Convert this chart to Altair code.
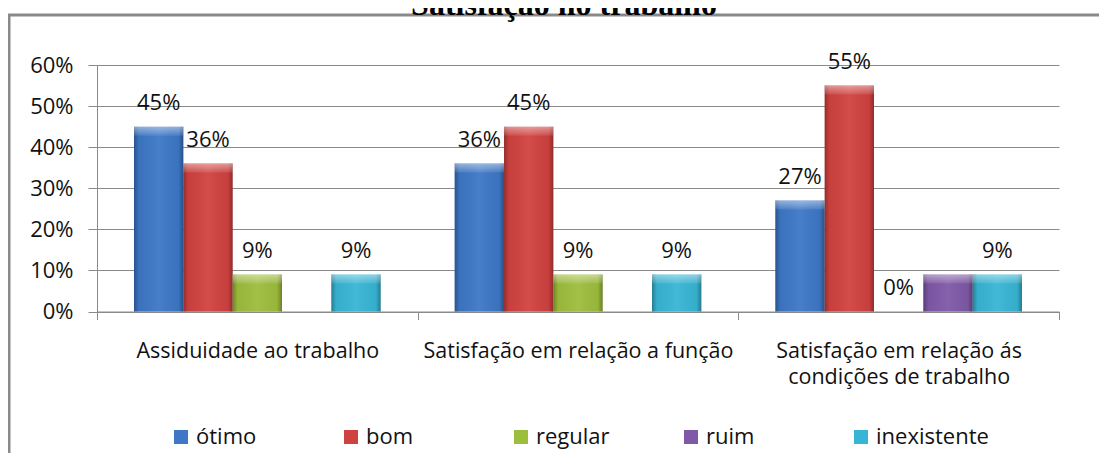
import altair as alt
import pandas as pd

# ---------------- data ----------------
title_text = "Satisfação no trabalho"
categories = [
    "Assiduidade ao trabalho",
    "Satisfação em relação a função",
    "Satisfação em relação ás condições de trabalho",
]
category_lines = [
    ["Assiduidade ao trabalho"],
    ["Satisfação em relação a função"],
    ["Satisfação em relação ás", "condições de trabalho"],
]
series = ["ótimo", "bom", "regular", "ruim", "inexistente"]
colors = ["#3d77c6", "#d04240", "#9dbd3c", "#7f58a7", "#37b5d4"]

otimo = [0.45, 0.36, 0.27]
bom = [0.36, 0.45, 0.55]
regular = [0.09, 0.09, 0.00]
ruim = [None, None, 0.09]
inexistente = [0.09, 0.09, 0.09]

otimo_lbl = [True, True, True]
bom_lbl = [True, True, True]
regular_lbl = [True, True, True]
ruim_lbl = [False, False, False]
inexistente_lbl = [True, True, True]

y_ticks = [0, 0.1, 0.2, 0.3, 0.4, 0.5, 0.6]

rows = []
for name, vals, lbls in zip(
    series,
    [otimo, bom, regular, ruim, inexistente],
    [otimo_lbl, bom_lbl, regular_lbl, ruim_lbl, inexistente_lbl],
):
    for cat, v, show in zip(categories, vals, lbls):
        if v is None:
            continue
        rows.append({
            "cat": cat,
            "serie": name,
            "v": v,
            "label": f"{round(v * 100)}%" if show else "",
        })
df = pd.DataFrame(rows)

FONT = "Open Sans"
GRAY = "#8a8a8a"

# multi-line x label expression built from the lists above
expr = "datum.label"
for cat, lines in zip(categories, category_lines):
    if len(lines) > 1:
        arr = "[" + ", ".join("'" + l + "'" for l in lines) + "]"
        expr = f"datum.label == '{cat}' ? {arr} : {expr}"

x_enc = alt.X(
    "cat:N",
    sort=categories,
    scale=alt.Scale(paddingInner=0, paddingOuter=0),
    axis=alt.Axis(
        title=None,
        labelAngle=0,
        labelFont=FONT,
        labelFontSize=21.5,
        labelColor="#111111",
        labelPadding=21,
        labelLineHeight=26,
        labelExpr=expr,
        labelLimit=600,
        domainColor=GRAY,
        tickColor=GRAY,
        tickSize=8,
        tickBand="extent",
        grid=False,
    ),
)
xoff_enc = alt.XOffset(
    "serie:N",
    sort=series,
    scale=alt.Scale(domain=series, paddingInner=0, paddingOuter=0.75),
)
y_enc = alt.Y(
    "v:Q",
    scale=alt.Scale(domain=[0, 0.6], nice=False, zero=True),
    axis=alt.Axis(
        title=None,
        values=y_ticks,
        format=".0%",
        labelFont=FONT,
        labelFontSize=22,
        labelColor="#111111",
        labelPadding=15,
        tickSize=9,
        tickColor=GRAY,
        domainColor=GRAY,
        gridColor=GRAY,
        gridWidth=1,
    ),
)

base = alt.Chart(df)

bars = base.mark_bar().encode(
    x=x_enc,
    xOffset=xoff_enc,
    y=y_enc,
    color=alt.Color(
        "serie:N",
        sort=series,
        scale=alt.Scale(domain=series, range=colors),
        legend=alt.Legend(
            title=None,
            orient="none",
            legendX=73,
            legendY=361,
            direction="horizontal",
            columns=5,
            gridAlign="all",
            columnPadding=31,
            symbolType="square",
            symbolSize=196,
            symbolStrokeWidth=0,
            labelFont=FONT,
            labelFontSize=22,
            labelColor="#111111",
            labelOffset=4,
            padding=0,
        ),
    ),
).transform_filter("datum.v > 0")

edges = base.mark_bar(
    fill=alt.Gradient(
        gradient="linear",
        x1=0, x2=1, y1=0, y2=0,
        stops=[
            alt.GradientStop(offset=0, color="rgba(0,0,0,0.30)"),
            alt.GradientStop(offset=0.1, color="rgba(0,0,0,0.04)"),
            alt.GradientStop(offset=0.5, color="rgba(255,255,255,0.06)"),
            alt.GradientStop(offset=0.9, color="rgba(0,0,0,0.04)"),
            alt.GradientStop(offset=1, color="rgba(0,0,0,0.32)"),
        ],
    )
).encode(x="cat:N", xOffset=alt.XOffset("serie:N", sort=series), y="v:Q").transform_filter("datum.v > 0")

bevel = base.mark_bar(
    y2Offset=9,
    fill=alt.Gradient(
        gradient="linear",
        x1=0, x2=0, y1=0, y2=1,
        stops=[
            alt.GradientStop(offset=0, color="rgba(255,255,255,0.45)"),
            alt.GradientStop(offset=1, color="rgba(255,255,255,0.08)"),
        ],
    ),
).encode(
    x="cat:N", xOffset=alt.XOffset("serie:N", sort=series), y="v:Q", y2="v"
).transform_filter("datum.v > 0")

labels = base.mark_text(
    dy=-24, baseline="middle", align="center", font=FONT, fontSize=22, color="#111111"
).encode(
    x="cat:N", xOffset=alt.XOffset("serie:N", sort=series), y="v:Q", text="label:N"
).transform_filter("datum.label != ''")

one = pd.DataFrame({"t": [title_text]})
frame = alt.Chart(one).mark_rect(
    fillOpacity=0, stroke=GRAY, strokeWidth=3
).encode(
    x=alt.value(-88), x2=alt.value(1200), y=alt.value(-50), y2=alt.value(600)
)
title = alt.Chart(one).mark_text(
    font="Liberation Serif", fontWeight="bold", fontSize=32,
    baseline="alphabetic", align="center", color="#000000",
).encode(x=alt.value(467), y=alt.value(-50.5), text="t:N")

chart = (
    alt.layer(frame, bars, edges, bevel, labels, title)
    .properties(
        width=962,
        height=246.5,
        padding={"left": 89, "top": 57, "right": 40, "bottom": 141.5},
        autosize=alt.AutoSizeParams(type="none"),
        background="white",
    )
    .configure_view(stroke=None)
)

chart.save("out.html", embed_options={"renderer": "svg", "actions": False})
